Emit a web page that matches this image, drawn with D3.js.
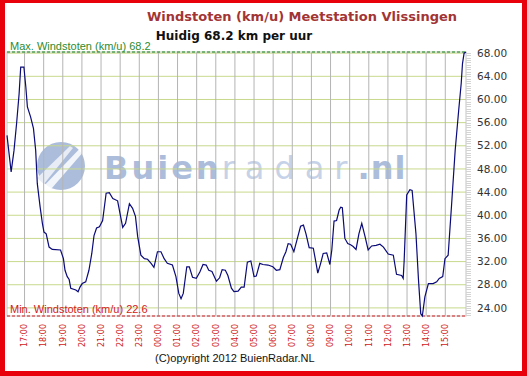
<!DOCTYPE html>
<html>
<head>
<meta charset="utf-8">
<script src="https://cdn.jsdelivr.net/npm/d3@7"></script>
<style>
  body { margin: 0; background: #fff; }
  svg { display: block; }
</style>
</head>
<body>
<svg id="chart" width="527" height="376"></svg>
<script>
// gusts (km/u), clock times over 24 hours
const times = ["16:05","16:18","16:27","16:35","16:43","16:48","16:58","17:04","17:09","17:19",
  "17:28","17:35","17:40","17:49","17:56","18:01","18:08","18:17","18:27","18:53",
  "19:02","19:07","19:14","19:20","19:25","19:41","19:48","19:54","20:01","20:12",
  "20:22","20:31","20:38","20:46","20:55","21:05","21:16","21:26","21:37","21:52",
  "22:08","22:17","22:29","22:39","22:48","22:55","23:05","23:16","23:26","23:37",
  "23:46","23:57","00:08","00:18","00:28","00:44","00:55","01:04","01:11","01:18",
  "01:29","01:37","01:47","01:59","02:10","02:20","02:30","02:38","02:48","03:02",
  "03:12","03:20","03:30","03:38","03:49","03:57","04:10","04:20","04:29","04:39",
  "04:50","05:00","05:07","05:18","05:28","05:44","05:59","06:10","06:21","06:32",
  "06:40","06:47","06:55","07:05","07:16","07:26","07:35","07:43","07:53","08:06",
  "08:14","08:20","08:29","08:37","08:48","08:58","09:04","09:11","09:19","09:27",
  "09:32","09:37","09:45","09:54","10:03","10:11","10:20","10:29","10:38","10:48",
  "10:58","11:09","11:23","11:35","11:46","12:01","12:17","12:27","12:43","12:48",
  "12:51","12:59","13:09","13:16","13:28","13:36","13:43","13:48","13:56","14:07",
  "14:22","14:33","14:41","14:52","14:59","15:09","15:20","15:31","15:42","15:50",
  "15:54","15:59","16:05"];
const gusts = [53.8,47.5,51.2,55.8,61.0,65.6,65.6,62.2,58.7,57.0,
  55.0,51.2,45.5,41.4,38.6,37.1,36.8,34.5,34.1,34.0,
  32.5,30.5,29.4,28.9,27.4,27.1,26.8,27.6,28.2,28.5,
  30.5,33.4,36.5,37.8,38.0,39.1,43.8,43.9,42.9,42.5,
  37.9,38.6,42.0,41.2,39.8,36.3,33.1,32.5,32.4,31.7,
  31.0,33.7,33.7,32.5,31.7,31.4,29.4,26.5,25.6,26.5,
  31.1,31.1,29.3,29.1,30.2,31.5,31.4,30.5,30.3,28.6,
  29.2,30.6,30.5,29.6,27.4,26.8,26.9,27.6,27.6,31.9,
  32.1,29.4,29.5,31.7,31.5,31.4,31.1,30.5,30.6,32.7,
  33.7,35.1,35.0,33.7,36.0,38.1,38.3,36.8,34.4,34.3,
  31.9,30.0,31.7,33.4,33.5,31.5,34.0,39.0,39.1,40.9,
  41.4,41.3,36.0,35.1,34.9,34.6,34.1,36.8,38.6,36.4,
  34.0,34.7,34.8,35.0,34.5,33.3,33.1,29.8,29.6,29.1,
  32.2,43.5,44.4,44.3,36.8,28.8,23.0,22.6,25.9,28.2,
  28.2,28.5,29.1,29.4,32.5,33.1,42.0,51.2,58.1,62.8,
  66.2,68.0,68.2];
const hourLabels = ["17:00","18:00","19:00","20:00","21:00","22:00","23:00","00:00","01:00",
  "02:00","03:00","04:00","05:00","06:00","07:00","08:00","09:00","10:00","11:00",
  "12:00","13:00","14:00","15:00"];
const yTicks = [24, 28, 32, 36, 40, 44, 48, 52, 56, 60, 64, 68];

const svg = d3.select("#chart");
const plotLeft = 7, plotRight = 466, plotTop = 52, plotBottom = 316;

// clock strings -> dates, rolling over to the next day after midnight
function toDates(list){
    let day = 1, prev = -1;
    return list.map(s => {
        const [h, m] = s.split(":").map(Number);
        const mins = h * 60 + m;
        if (mins <= prev) day++;
        prev = mins;
        return new Date(2012, 0, day, h, m);
    });
}
const dates = toDates(times);
const data = dates.map((d, i) => ({date: d, value: gusts[i]}));
const hourDates = toDates(["16:05"].concat(hourLabels)).slice(1);

const maxG = d3.max(gusts), minG = d3.min(gusts);
const current = gusts[gusts.length - 1];

const x = d3.scaleTime()
    .domain(d3.extent(dates))
    .range([plotLeft, plotRight]);
const y = d3.scaleLinear()
    .domain([minG, maxG])
    .range([plotBottom, plotTop]);

// watermark
const wm = svg.append("g").attr("opacity", 0.75);
wm.append("circle").attr("cx", 61).attr("cy", 166).attr("r", 24).attr("fill", "#8fa7d0");
wm.append("path")
    .attr("d", "M40,190 L88,140 L91,143 L52,188 Z")
    .attr("fill", "#fff").attr("opacity", 0.85);
wm.append("path")
    .attr("d", "M37,178 L70,146 L73,148 L44,184 Z")
    .attr("fill", "#dfe6f2");
const wt = wm.append("text")
    .attr("x", 104).attr("y", 179)
    .attr("font-family", "DejaVu Sans, Verdana, sans-serif")
    .attr("font-size", 32)
    .attr("fill", "#8fa7d0");
wt.append("tspan").attr("font-weight", "bold").attr("letter-spacing", 3).text("Buien");
wt.append("tspan").attr("fill", "#b3c3e0").attr("letter-spacing", 10).text("radar");
wt.append("tspan").attr("font-weight", "bold").attr("letter-spacing", 1).text(".nl");

// grid
svg.append("g")
    .selectAll("line")
    .data(yTicks)
    .join("line")
    .attr("x1", plotLeft).attr("x2", plotRight)
    .attr("y1", d => y(d)).attr("y2", d => y(d))
    .attr("stroke", "#c8d98c").attr("stroke-width", 1);

svg.append("g")
    .selectAll("line")
    .data(hourDates)
    .join("line")
    .attr("x1", d => x(d)).attr("x2", d => x(d))
    .attr("y1", plotTop).attr("y2", plotBottom)
    .attr("stroke", "#b4b4b4").attr("stroke-width", 1);

svg.append("rect")
    .attr("x", plotLeft).attr("y", plotTop)
    .attr("width", plotRight - plotLeft).attr("height", plotBottom - plotTop)
    .attr("fill", "none").attr("stroke", "#c4c4c4");

// minor ticks on the right
svg.append("g")
    .selectAll("line")
    .data(d3.range(22.8, 68.2, 0.4))
    .join("line")
    .attr("x1", plotRight).attr("x2", plotRight + 5)
    .attr("y1", d => Math.round(y(d)) + 0.5).attr("y2", d => Math.round(y(d)) + 0.5)
    .attr("stroke", "#d4d4d4");

// y labels
svg.append("g")
    .selectAll("text")
    .data(yTicks)
    .join("text")
    .attr("x", 477).attr("y", d => y(d))
    .attr("dy", "0.35em")
    .attr("font-family", "DejaVu Sans, Verdana, sans-serif")
    .attr("font-size", 10.5)
    .attr("fill", "#333")
    .text(d => d3.format(".2f")(d));

// x labels
svg.append("g")
    .selectAll("text")
    .data(hourDates)
    .join("text")
    .attr("transform", d => `translate(${x(d)},324) rotate(-90)`)
    .attr("dy", "0.35em")
    .attr("text-anchor", "end")
    .attr("font-family", "DejaVu Sans, Verdana, sans-serif")
    .attr("font-size", 8)
    .attr("fill", "#d02020")
    .text((d, i) => hourLabels[i]);

// max / min lines
svg.append("line")
    .attr("x1", plotLeft).attr("x2", plotRight)
    .attr("y1", y(maxG)).attr("y2", y(maxG))
    .attr("stroke", "#118811").attr("stroke-dasharray", "3,2");
svg.append("line")
    .attr("x1", plotLeft).attr("x2", plotRight)
    .attr("y1", y(minG)).attr("y2", y(minG))
    .attr("stroke", "#d42020").attr("stroke-dasharray", "3,2");

svg.append("text")
    .attr("x", 10).attr("y", y(maxG) - 2)
    .attr("font-family", "Liberation Sans, Arial, sans-serif")
    .attr("font-size", 11)
    .attr("fill", "#2e8b2e")
    .text(`Max. Windstoten (km/u) ${maxG}`);
svg.append("text")
    .attr("x", 10).attr("y", y(minG) - 3)
    .attr("font-family", "Liberation Sans, Arial, sans-serif")
    .attr("font-size", 11)
    .attr("fill", "#d42020")
    .text(`Min. Windstoten (km/u) ${minG}`);

// the gust line
svg.append("path")
    .datum(data)
    .attr("fill", "none")
    .attr("stroke", "#0a0a78")
    .attr("stroke-width", 1.2)
    .attr("d", d3.line()
        .x(d => x(d.date))
        .y(d => y(d.value)));

// titles
svg.append("text")
    .attr("x", 302).attr("y", 21)
    .attr("text-anchor", "middle")
    .attr("font-family", "DejaVu Sans, Verdana, sans-serif")
    .attr("font-size", 13).attr("font-weight", "bold")
    .attr("fill", "#a33434")
    .text("Windstoten (km/u) Meetstation Vlissingen");
svg.append("text")
    .attr("x", 234).attr("y", 40)
    .attr("text-anchor", "middle")
    .attr("font-family", "DejaVu Sans, Verdana, sans-serif")
    .attr("font-size", 12).attr("font-weight", "bold")
    .attr("fill", "#111")
    .text(`Huidig ${current} km per uur`);

svg.append("text")
    .attr("x", 155).attr("y", 362)
    .attr("font-family", "Liberation Sans, Arial, sans-serif")
    .attr("font-size", 11)
    .attr("fill", "#111")
    .text("(C)opyright 2012 BuienRadar.NL");

// red frame
svg.append("g")
    .selectAll("rect")
    .data([[0, 0, 527, 3], [0, 0, 5, 376], [522, 0, 5, 376], [0, 371, 527, 5]])
    .join("rect")
    .attr("x", d => d[0]).attr("y", d => d[1])
    .attr("width", d => d[2]).attr("height", d => d[3])
    .attr("fill", "#e8000a");
</script>
</body>
</html>
